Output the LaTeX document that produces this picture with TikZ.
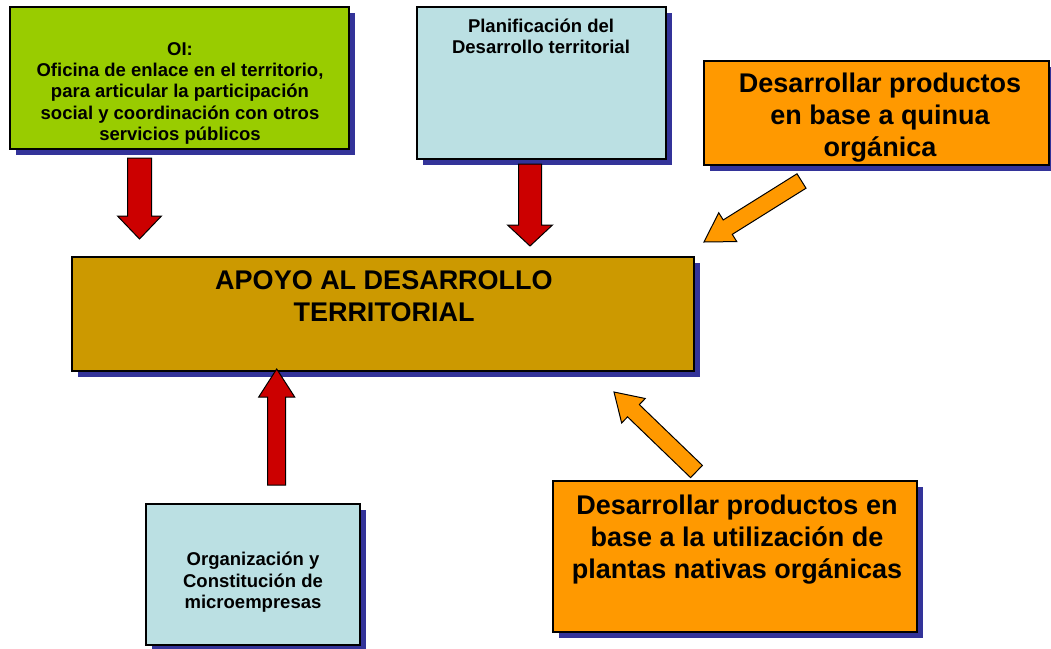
\documentclass[tikz,border=0pt]{standalone}
\usepackage{fontspec}
\setmainfont{Liberation Sans}
\usetikzlibrary{calc,shadows}
\definecolor{cgreen}{HTML}{99CC00}
\definecolor{cblue}{HTML}{BBE0E3}
\definecolor{cgold}{HTML}{CC9900}
\definecolor{corange}{HTML}{FF9900}
\definecolor{cred}{HTML}{CC0000}
\definecolor{cshadow}{HTML}{333399}
\newcommand\blockarrow[6]{%
  \coordinate (ba) at ($(#2)!#5!(#1)$);
  \draw[#6] ($(#1)!#3!90:(#2)$) -- ($(ba)!#3!90:(#2)$) -- ($(ba)!#4!90:(#2)$) -- (#2)
    -- ($(ba)!#4!-90:(#2)$) -- ($(ba)!#3!-90:(#2)$) -- ($(#1)!#3!-90:(#2)$) -- cycle;}
\newcommand\fl{\rule{0pt}{1em}}
\begin{document}
\begin{tikzpicture}[x=1pt,y=-1pt,
  box/.style={draw=black, line width=1.3pt, anchor=north west, inner sep=0pt, outer sep=0pt,
    drop shadow={shadow xshift=5.5pt, shadow yshift=-5.5pt, fill=cshadow, opacity=1}},
  small/.style={inner sep=0pt, anchor=north, align=center, font=\fontsize{18.5}{21.3}\selectfont\bfseries},
  big/.style={inner sep=0pt, anchor=north, align=center, font=\fontsize{27}{32}\selectfont\bfseries},
  redarrow/.style={fill=cred, draw=black, line width=1pt, line join=miter},
  orangearrow/.style={fill=corange, draw=black, line width=1pt, line join=miter}]
\useasboundingbox (0,0) rectangle (1051,648);
\clip (0,0) rectangle (1051,648);
\fill[white] (0,0) rectangle (1051,648);
% boxes
\node[box, fill=cgreen, minimum width=339pt, minimum height=142pt] (oi) at (10,7) {};
\node[box, fill=cblue, minimum width=249pt, minimum height=152pt] (plan) at (417,7) {};
\node[box, fill=corange, minimum width=345pt, minimum height=104pt] (quinua) at (704,61) {};
\node[box, fill=cgold, minimum width=622pt, minimum height=114pt] (apoyo) at (72,257) {};
\node[box, fill=cblue, minimum width=214pt, minimum height=141pt] (org) at (146,504) {};
\node[box, fill=corange, minimum width=364pt, minimum height=151pt] (plantas) at (553,481) {};
% texts
\node[small] (oitxt) at (180,36.5) {\fl OI:\\Oficina de enlace en el territorio,\\para articular la participación\\social y coordinación con otros\\servicios públicos};
\node[small] (plantxt) at (541,13.8) {\fl Planificación del\\Desarrollo territorial};
\node[big] (quinuatxt) at (880,65.2) {\fl Desarrollar productos\\en base a quinua\\orgánica};
\node[big] (apoyotxt) at (384,261.8) {\fl APOYO AL DESARROLLO\\TERRITORIAL};
\node[small] (orgtxt) at (253,547.2) {\fl Organización y\\Constitución de\\microempresas};
\node[big] (plantastxt) at (737,486.8) {\fl Desarrollar productos en\\base a la utilización de\\plantas nativas orgánicas};
% arrows
\coordinate (a1t) at (139.5,158); \coordinate (a1h) at (139.5,239);
\coordinate (a2t) at (530,164);   \coordinate (a2h) at (530,246);
\coordinate (a3t) at (276.7,485); \coordinate (a3h) at (276.7,369);
\coordinate (a4t) at (801.5,181); \coordinate (a4h) at (704,242);
\coordinate (a5t) at (696.5,471.5); \coordinate (a5h) at (614,392);
\blockarrow{a1t}{a1h}{12pt}{22pt}{23pt}{redarrow}
\blockarrow{a2t}{a2h}{11.5pt}{22.5pt}{21pt}{redarrow}
\blockarrow{a3t}{a3h}{9pt}{18pt}{28pt}{redarrow}
\blockarrow{a4t}{a4h}{8.5pt}{17pt}{28pt}{orangearrow}
\blockarrow{a5t}{a5h}{8.5pt}{17pt}{27pt}{orangearrow}
\end{tikzpicture}
\end{document}
